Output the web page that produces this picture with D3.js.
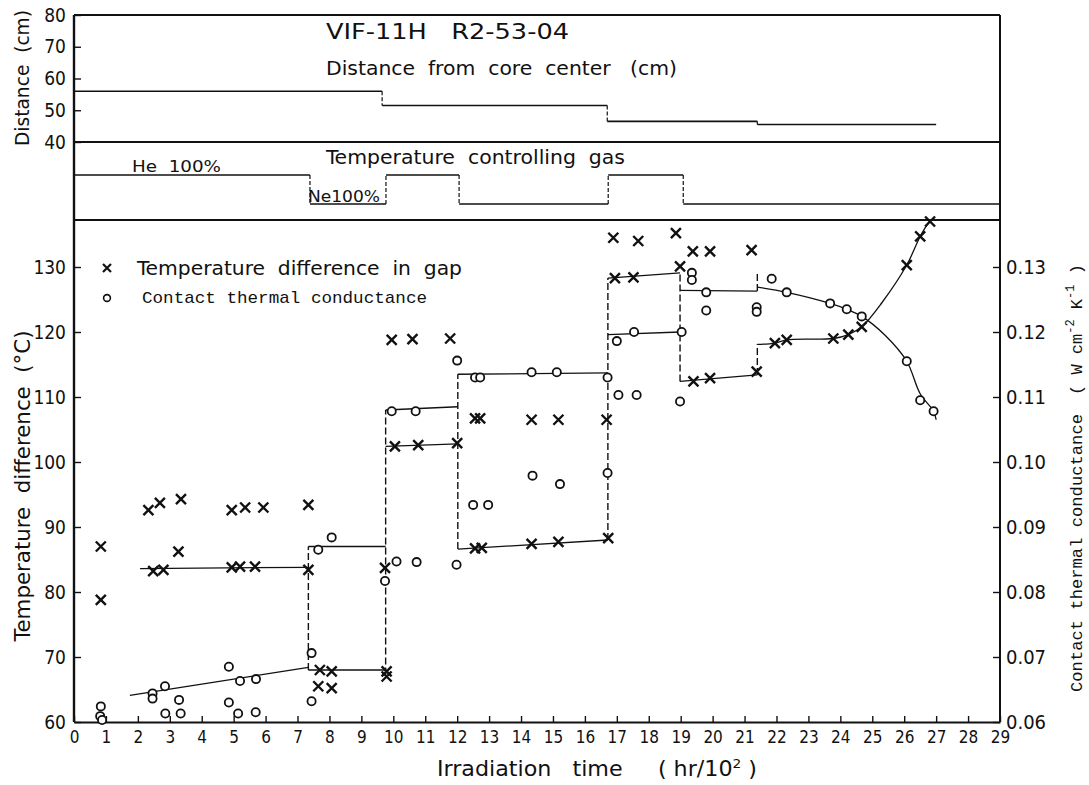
<!DOCTYPE html>
<html><head><meta charset="utf-8">
<script src="https://cdn.jsdelivr.net/npm/d3@7"></script>
<style>
body{margin:0;background:#fff}
svg{display:block}
text{white-space:pre}
.lt{font-family:"DejaVu Sans Condensed","Liberation Sans Narrow","DejaVu Sans",sans-serif;font-stretch:condensed}
.mono{font-family:"Liberation Mono","DejaVu Sans Mono","Courier New",monospace}
</style></head><body>
<svg id="c" width="1089" height="785"></svg>
<script>
// ---------- data ----------
const xTicks = d3.range(0, 30);
const tempTicks = [60, 70, 80, 90, 100, 110, 120, 130];
const condTicks = [0.06, 0.07, 0.08, 0.09, 0.10, 0.11, 0.12, 0.13];
const distTicks = [40, 50, 60, 70, 80];

// distance from core center (cm), step segments
const distStart = [0, 9.65, 16.7, 21.4];
const distEnd   = [9.65, 16.7, 21.4, 27.0];
const distValue = [56, 51.5, 46.5, 45.5];

// temperature controlling gas (He fraction %)
const gasStart = [0, 7.39, 9.77, 12.06, 16.73, 19.08];
const gasEnd   = [7.39, 9.77, 12.06, 16.73, 19.08, 29];
const gasHe    = [100, 0, 100, 0, 100, 0];

// temperature difference in gap (°C)  [time (hr/100), value]
const tempDiff = [
 [0.84,87.0],[0.84,78.8],
 [2.33,92.6],[2.69,93.7],[3.35,94.3],[3.27,86.2],[2.48,83.2],[2.8,83.4],
 [4.94,83.8],[5.2,83.9],[5.67,83.9],[4.94,92.6],[5.36,93.0],[5.93,93.0],
 [7.34,93.4],[7.34,83.4],
 [7.7,68.0],[8.07,67.8],[7.65,65.5],[8.07,65.2],
 [9.74,83.7],[9.79,67.8],[9.79,67.0],
 [9.95,118.8],[10.6,118.9],[11.78,119.0],
 [10.05,102.4],[10.78,102.6],[12.0,102.9],
 [12.56,106.7],[12.72,106.7],[14.33,106.5],[15.17,106.5],[16.68,106.5],
 [12.56,86.7],[12.77,86.8],[14.33,87.4],[15.17,87.7],[16.73,88.3],
 [16.89,134.5],[17.67,134.0],[18.85,135.2],[19.38,132.4],[19.92,132.4],[21.22,132.6],
 [16.94,128.3],[17.52,128.4],[18.98,130.1],
 [19.4,112.4],[19.92,112.9],[21.38,113.9],
 [21.95,118.3],[22.32,118.8],[23.78,119.0],[24.25,119.6],[24.67,120.8],
 [26.08,130.3],[26.5,134.7],[26.81,137.0]
];

// contact thermal conductance (W cm-2 K-1)
const conductance = [
 [0.84,0.0624],[0.82,0.0609],[0.88,0.0603],
 [2.46,0.0644],[2.46,0.0636],[2.85,0.0655],[3.29,0.0634],[2.86,0.0613],[3.34,0.0613],
 [4.85,0.0685],[4.85,0.0630],[5.2,0.0663],[5.7,0.0666],[5.14,0.0613],[5.69,0.0615],
 [7.44,0.0706],[7.44,0.0632],
 [7.65,0.0865],[8.07,0.0884],
 [9.74,0.0817],[10.1,0.0847],[10.73,0.0846],[11.98,0.0842],
 [9.95,0.1078],[10.7,0.1078],
 [12.0,0.1156],[12.56,0.1130],[12.72,0.1130],[14.33,0.1138],[15.12,0.1138],[16.71,0.1130],
 [12.5,0.0934],[12.97,0.0934],[14.36,0.0979],[15.22,0.0966],[16.71,0.0983],
 [17.05,0.1103],[17.62,0.1103],[18.98,0.1093],
 [17.0,0.1186],[17.54,0.1200],[19.03,0.1200],
 [19.35,0.1291],[19.35,0.1280],
 [19.8,0.1261],[19.8,0.1233],
 [21.38,0.1238],[21.38,0.1231],
 [21.85,0.1282],[22.32,0.1261],[23.68,0.1244],[24.2,0.1235],[24.67,0.1224],
 [26.08,0.1155],[26.5,0.1095],[26.92,0.1078]
];

// fitted step lines
const tempDiffSteps = [
 [[2.07,83.6],[7.34,83.8]],
 [[7.34,68.0],[9.76,68.0]],
 [[9.76,102.4],[12.02,102.8]],
 [[12.02,86.6],[16.72,88.0]],
 [[16.72,128.3],[18.98,129.1]],
 [[18.98,112.4],[21.4,113.4]]
];
const tempDiffCurve = [[21.4,118.1],[21.95,118.3],[22.32,118.8],[23.78,119.0],[24.25,119.6],[24.67,120.8],[25.3,124.5],[26.08,130.3],[26.5,134.7],[26.81,137.2]];
const condSteps = [
 [[1.75,0.0641],[7.34,0.0684]],
 [[7.34,0.0870],[9.76,0.0870]],
 [[9.76,0.1080],[12.02,0.1085]],
 [[12.02,0.1135],[16.72,0.1137]],
 [[16.72,0.1196],[18.98,0.1200]],
 [[18.98,0.1264],[21.4,0.1263]]
];
const condCurve = [[21.4,0.1269],[22.32,0.1261],[23.68,0.1244],[24.2,0.1235],[24.67,0.1224],[25.4,0.1195],[26.08,0.1155],[26.5,0.1105],[26.92,0.1078],[27.0,0.1065]];
// dashed transitions [time, from °C, to °C]
const stepDashes = [[7.34,68.0,87.0],[9.76,67.3,108.0],[12.02,86.6,113.5],[16.72,88.0,128.3],[18.98,112.4,129.1],[21.4,113.4,118.1],[21.4,126.3,129.3]];

// ---------- layout ----------
const svg = d3.select("#c");
const L = 74, R = 1000, TOP = 15, D40 = 142, GBOT = 220, BOT = 722;
const x = d3.scaleLinear().domain([0, 29]).range([L, R]);
const yT = d3.scaleLinear().domain([60, 60 + (BOT - GBOT) / 6.5]).range([BOT, GBOT]);
const yK = d3.scaleLinear().domain([0.06, 0.06 + (BOT - GBOT) / 6500]).range([BOT, GBOT]);
const yD = d3.scaleLinear().domain([40, 80]).range([D40, TOP]);
const yG = d3.scaleLinear().domain([0, 100]).range([204, 175]);
const ink = "#111";

// frame
const frame = svg.append("g").attr("stroke", ink).attr("stroke-width", 2).attr("fill", "none");
[[L, TOP, R, TOP], [L, D40, R, D40], [L, GBOT, R, GBOT], [R, TOP, R, BOT]].forEach(s =>
  frame.append("line").attr("x1", s[0]).attr("y1", s[1]).attr("x2", s[2]).attr("y2", s[3]));

function styleAxis(g, size) {
  g.selectAll("path.domain").attr("stroke", ink).attr("stroke-width", 2.2);
  g.selectAll(".tick line").attr("stroke", ink).attr("stroke-width", 1.4);
  g.selectAll(".tick text").attr("class", "lt").attr("fill", ink).style("font-size", size + "px");
  g.attr("font-family", null).attr("font-size", null);
}
const ax = svg.append("g").attr("transform", `translate(0,${BOT})`)
  .call(d3.axisBottom(x).tickValues(xTicks).tickFormat(d3.format("d")).tickSizeInner(-6).tickSizeOuter(0).tickPadding(9));
styleAxis(ax, 17);
const ayT = svg.append("g").attr("transform", `translate(${L},0)`)
  .call(d3.axisLeft(yT).tickValues(tempTicks).tickSizeInner(-7).tickSizeOuter(0).tickPadding(8));
styleAxis(ayT, 19);
ayT.select("path.domain").remove();
const ayK = svg.append("g").attr("transform", `translate(${R},0)`)
  .call(d3.axisRight(yK).tickValues(condTicks).tickFormat(d3.format(".2f")).tickSizeInner(-7).tickSizeOuter(0).tickPadding(6));
styleAxis(ayK, 20);
ayK.select("path.domain").remove();
const ayD = svg.append("g").attr("transform", `translate(${L},0)`)
  .call(d3.axisLeft(yD).tickValues(distTicks).tickSizeInner(-7).tickSizeOuter(0).tickPadding(8));
styleAxis(ayD, 19);
ayD.select("path.domain").remove();
svg.append("line").attr("x1", L).attr("x2", L).attr("y1", TOP).attr("y2", BOT)
  .attr("stroke", ink).attr("stroke-width", 2.4);

// ---------- distance panel ----------
const dp = svg.append("g").attr("stroke", ink).attr("fill", "none").attr("stroke-width", 1.6);
distValue.forEach((v, i) => {
  dp.append("line").attr("x1", x(distStart[i])).attr("x2", x(distEnd[i])).attr("y1", yD(v)).attr("y2", yD(v));
  if (i > 0) dp.append("line").attr("x1", x(distStart[i])).attr("x2", x(distStart[i]))
    .attr("y1", yD(distValue[i - 1])).attr("y2", yD(v)).attr("stroke-dasharray", "4,2").attr("stroke-width", 1.2);
});
// gas panel
gasHe.forEach((v, i) => {
  dp.append("line").attr("x1", x(gasStart[i])).attr("x2", x(gasEnd[i])).attr("y1", yG(v)).attr("y2", yG(v));
  if (i > 0) dp.append("line").attr("x1", x(gasStart[i])).attr("x2", x(gasStart[i]))
    .attr("y1", yG(gasHe[i - 1])).attr("y2", yG(v)).attr("stroke-dasharray", "4,2").attr("stroke-width", 1.2);
});

// ---------- main panel lines ----------
const lineT = d3.line().x(d => x(d[0])).y(d => yT(d[1]));
const lineK = d3.line().x(d => x(d[0])).y(d => yK(d[1]));
const ml = svg.append("g").attr("stroke", ink).attr("fill", "none").attr("stroke-width", 1.3);
tempDiffSteps.forEach(s => ml.append("path").attr("d", lineT(s)));
condSteps.forEach(s => ml.append("path").attr("d", lineK(s)));
ml.append("path").attr("d", lineT.curve(d3.curveCatmullRom)(tempDiffCurve));
ml.append("path").attr("d", lineK.curve(d3.curveCatmullRom)(condCurve));
stepDashes.forEach(s => ml.append("line").attr("x1", x(s[0])).attr("x2", x(s[0]))
  .attr("y1", yT(s[1])).attr("y2", yT(s[2])).attr("stroke-dasharray", "7,3").attr("stroke-width", 1.4));

// markers
const cross = "M-5,-5L5,5M5,-5L-5,5";
svg.append("g").selectAll("path").data(tempDiff).join("path")
  .attr("transform", d => `translate(${x(d[0])},${yT(d[1])})`).attr("d", cross)
  .attr("stroke", ink).attr("stroke-width", 2.4).attr("fill", "none");
svg.append("g").selectAll("circle").data(conductance).join("circle")
  .attr("cx", d => x(d[0])).attr("cy", d => yK(d[1])).attr("r", 4.1)
  .attr("stroke", ink).attr("stroke-width", 1.8).attr("fill", "white");

// ---------- texts ----------
function txt(cls, xx, yy, s, size, len, anchor) {
  const t = svg.append("text").attr("class", cls).attr("x", xx).attr("y", yy).attr("xml:space", "preserve")
    .attr("fill", ink).style("font-size", size + "px").attr("text-anchor", anchor || "start").text(s);
  if (len) t.attr("textLength", len).attr("lengthAdjust", "spacingAndGlyphs");
  return t;
}
txt("lt", 326, 39, "VIF-11H   R2-53-04", 21, 243);
txt("lt", 326, 75, "Distance  from  core  center   (cm)", 20, 351);
txt("lt", 326, 164, "Temperature  controlling  gas", 20, 299);
txt("lt", 132, 172, "He  100%", 16, 89);
txt("lt", 308, 202, "Ne100%", 15, 72);

// legend
svg.append("path").attr("transform", "translate(107,268)").attr("d", "M-4,-4L4,4M4,-4L-4,4")
  .attr("stroke", ink).attr("stroke-width", 2.2);
txt("lt", 137, 275, "Temperature  difference  in  gap", 20, 325);
svg.append("circle").attr("cx", 107).attr("cy", 298).attr("r", 3.4).attr("fill", "none").attr("stroke", ink).attr("stroke-width", 1.6);
txt("mono", 142, 303, "Contact thermal conductance", 17, 285);

// axis titles
const xt = txt("lt", 597, 776, "", 21, 320, "middle");
xt.append("tspan").text("Irradiation   time     ( hr/10");
xt.append("tspan").attr("dy", -8).style("font-size", "13px").text("2");
xt.append("tspan").attr("dy", 8).text(" )");

svg.append("text").attr("class", "lt").attr("transform", "translate(29,78) rotate(-90)")
  .attr("text-anchor", "middle").attr("fill", ink).style("font-size", "20px")
  .attr("textLength", 136).attr("lengthAdjust", "spacingAndGlyphs").text("Distance  (cm)");
svg.append("text").attr("class", "lt").attr("transform", "translate(30,486) rotate(-90)")
  .attr("text-anchor", "middle").attr("fill", ink).style("font-size", "21px")
  .attr("textLength", 311).attr("lengthAdjust", "spacingAndGlyphs").text("Temperature  difference  (°C)");

const rt = svg.append("g").attr("transform", "translate(1082,0) rotate(-90)");
rt.append("text").attr("class", "mono").attr("x", -553).attr("y", 0).attr("text-anchor", "middle")
  .attr("fill", ink).style("font-size", "17px").attr("textLength", 278).attr("lengthAdjust", "spacingAndGlyphs")
  .text("Contact thermal conductance");
const rt2 = rt.append("text").attr("class", "mono").attr("x", -395).attr("y", 0).attr("fill", ink).style("font-size", "17px");
rt2.append("tspan").text("( W cm");
rt2.append("tspan").attr("dy", -8).style("font-size", "12px").text("-2");
rt2.append("tspan").attr("dy", 8).text(" K");
rt2.append("tspan").attr("dy", -8).style("font-size", "12px").text("-1");
rt2.append("tspan").attr("dy", 8).text(" )");
</script>
</body></html>
